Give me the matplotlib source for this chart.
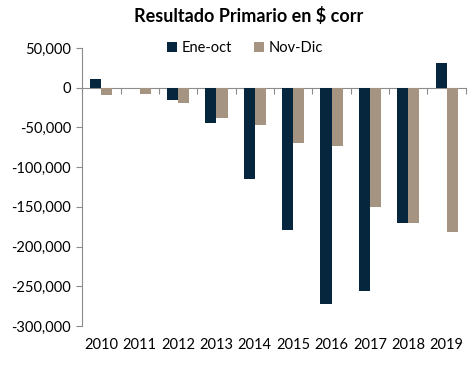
import numpy as np
import matplotlib
matplotlib.use("Agg")
import matplotlib.pyplot as plt
from matplotlib.ticker import FuncFormatter

plt.rcParams['font.family'] = ['Lato', 'DejaVu Sans']

years = ['2010', '2011', '2012', '2013', '2014', '2015', '2016', '2017', '2018', '2019']
ene_oct = [10500, -500, -16000, -44700, -114600, -179000, -272600, -256200, -170300, 30700]
nov_dic = [-9300, -8100, -18600, -37500, -46400, -69100, -72900, -150000, -170300, -181600]

c_ene = '#06263d'
c_nov = '#a59481'
grey = '#8c8c8c'

fig = plt.figure(figsize=(4.72, 3.67), dpi=100)
ax = fig.add_axes([0.174, 0.112, 0.813, 0.757])

x = np.arange(len(years))
w = 0.29
ax.bar(x - w / 2, ene_oct, w, color=c_ene, label='Ene-oct')
ax.bar(x + w / 2, nov_dic, w, color=c_nov, label='Nov-Dic')

ymin, ymax = -300000, 50000
ax.set_ylim(ymin, ymax)
ax.set_xlim(-0.5, len(years) - 0.5)
ax.set_yticks(np.arange(ymin, ymax + 1, 50000))
ax.yaxis.set_major_formatter(FuncFormatter(lambda v, p: f'{int(v):,}'))

for s in ['top', 'right', 'bottom']:
    ax.spines[s].set_visible(False)
ax.spines['left'].set_color(grey)
ax.tick_params(axis='y', colors=grey, labelcolor='black', labelsize=10.5, length=4, pad=4)

ax.set_xticks(x)
ax.set_xticklabels(years)
ax.tick_params(axis='x', length=0, labelsize=10.5, pad=9)

# zero line with category boundary ticks
zero_frac = (0 - ymin) / (ymax - ymin)
sec = ax.secondary_xaxis(zero_frac)
for s in sec.spines.values():
    s.set_color(grey)
sec.set_xticks(np.arange(-0.5, len(years) + 0.5, 1))
sec.tick_params(axis='x', direction='in', length=4, color=grey,
                labeltop=False, labelbottom=False)

fig.text(0.527, 0.957, 'Resultado Primario en $ corr', ha='center', va='center',
         fontsize=13, fontweight='bold')

fig.legend(loc='center', bbox_to_anchor=(0.519, 0.868), ncol=2, frameon=False,
           fontsize=10.5, handlelength=0.7, handleheight=0.7, handletextpad=0.3,
           columnspacing=1.5)

fig.savefig('out.png', dpi=100)
